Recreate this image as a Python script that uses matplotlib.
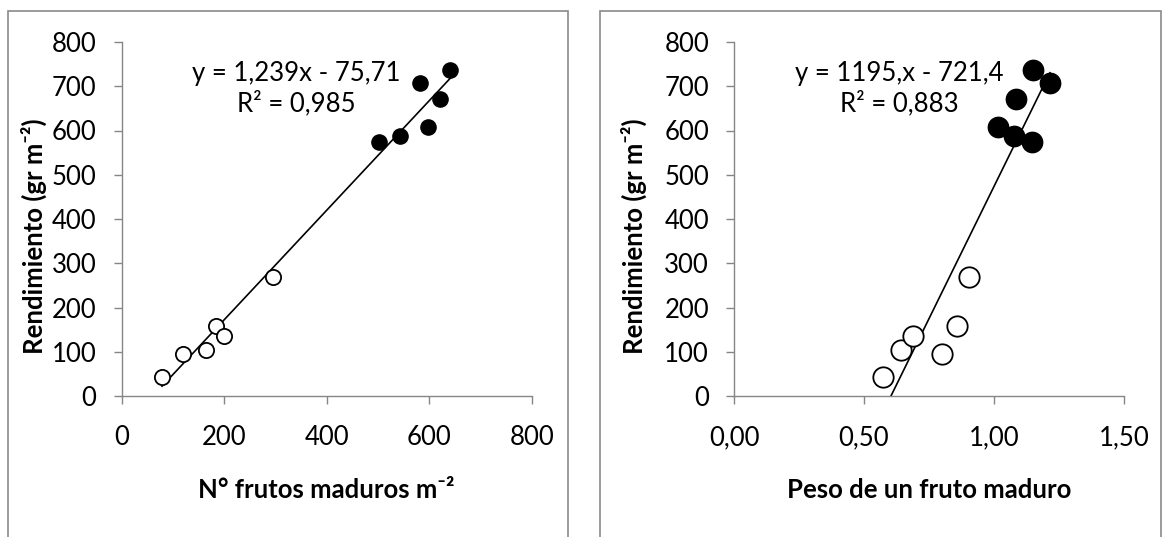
import matplotlib
matplotlib.use("Agg")
import matplotlib.pyplot as plt
from matplotlib.patches import Rectangle
from matplotlib.ticker import FuncFormatter

plt.rcParams['font.family'] = ['Lato', 'DejaVu Sans']

# rendimiento (gr m-2), first 6 = open circles, last 6 = filled
rendimiento = [43, 95, 104, 158, 136, 269, 574, 587, 707, 607, 672, 737]
frutos = [79, 120, 165, 184, 200, 296, 501, 543, 581, 597, 620, 641]
peso = [0.573, 0.800, 0.642, 0.858, 0.688, 0.904, 1.146, 1.077, 1.215, 1.015, 1.085, 1.150]
n_open = 6

# trendline coefficients as printed on the chart
fit_left = (1.239, -75.71)
fit_right = (1195.0, -721.4)
eq_left = "y = 1,239x - 75,71\nR² = 0,985"
eq_right = "y = 1195,x - 721,4\nR² = 0,883"

left_xticks = [0, 200, 400, 600, 800]
right_xticks = [0.0, 0.5, 1.0, 1.5]
yticks = [0, 100, 200, 300, 400, 500, 600, 700, 800]

W, H = 1166, 537
fig = plt.figure(figsize=(W / 100, H / 100), dpi=100)
gray = '#868686'
fs = 18.5

# chart frames
for x0, x1 in [(8, 568), (600, 1161)]:
    fig.patches.append(Rectangle((x0 / W, -0.1), (x1 - x0) / W, 0.1 + (537 - 11) / H,
                                 transform=fig.transFigure, fill=False,
                                 edgecolor='#8a8a8a', linewidth=1.2))

axL = fig.add_axes([121.5 / W, (537 - 396) / H, 410.5 / W, 354 / H])
axR = fig.add_axes([734 / W, (537 - 396) / H, 390 / W, 354 / H])


def style(ax):
    for s in ['top', 'right']:
        ax.spines[s].set_visible(False)
    for s in ['left', 'bottom']:
        ax.spines[s].set_color(gray)
        ax.spines[s].set_linewidth(1.0)
    ax.tick_params(axis='both', direction='out', length=6, width=1.0,
                   color=gray, labelsize=fs, labelcolor='black')
    ax.tick_params(axis='y', pad=12)
    ax.tick_params(axis='x', pad=15)
    ax.set_ylim(0, 800)
    ax.set_yticks(yticks)
    ax.set_ylabel("Rendimiento (gr m⁻²)", fontsize=fs, fontweight='bold')
    ax.yaxis.label.set_va('center')
    ax.xaxis.label.set_va('center')


style(axL)
style(axR)

# left panel
axL.scatter(frutos[:n_open], rendimiento[:n_open], s=120, facecolors='white',
            edgecolors='black', linewidths=1.3, zorder=3, clip_on=False)
axL.scatter(frutos[n_open:], rendimiento[n_open:], s=120, facecolors='black',
            edgecolors='black', linewidths=1.0, zorder=3, clip_on=False)
xl = [min(frutos), max(frutos)]
axL.plot(xl, [fit_left[0] * v + fit_left[1] for v in xl], color='black', lw=1.2, zorder=2)
axL.set_xlim(0, 800)
axL.set_xticks(left_xticks)
axL.set_xlabel("N° frutos maduros m⁻²", fontsize=fs, fontweight='bold')
axL.xaxis.set_label_coords(0.5, -0.265)
axL.yaxis.set_label_coords((34 - 121.5) / 410.5, 0.452)
axL.text(341, 695, eq_left, ha='center', va='center', fontsize=fs, linespacing=1.2)

# right panel
axR.scatter(peso[:n_open], rendimiento[:n_open], s=215, facecolors='white',
            edgecolors='black', linewidths=1.3, zorder=3, clip_on=False)
axR.scatter(peso[n_open:], rendimiento[n_open:], s=215, facecolors='black',
            edgecolors='black', linewidths=1.0, zorder=3, clip_on=False)
xr = [min(peso), max(peso)]
axR.plot(xr, [fit_right[0] * v + fit_right[1] for v in xr], color='black', lw=1.2, zorder=2)
axR.set_xlim(0, 1.5)
axR.set_xticks(right_xticks)
axR.xaxis.set_major_formatter(FuncFormatter(lambda v, p: f"{v:.2f}".replace('.', ',')))
axR.set_xlabel("Peso de un fruto maduro", fontsize=fs, fontweight='bold')
axR.xaxis.set_label_coords(0.5, -0.265)
axR.yaxis.set_label_coords((634 - 734) / 390, 0.452)
axR.text(0.637, 695, eq_right, ha='center', va='center', fontsize=fs, linespacing=1.2)

fig.savefig("out.png", dpi=100)
